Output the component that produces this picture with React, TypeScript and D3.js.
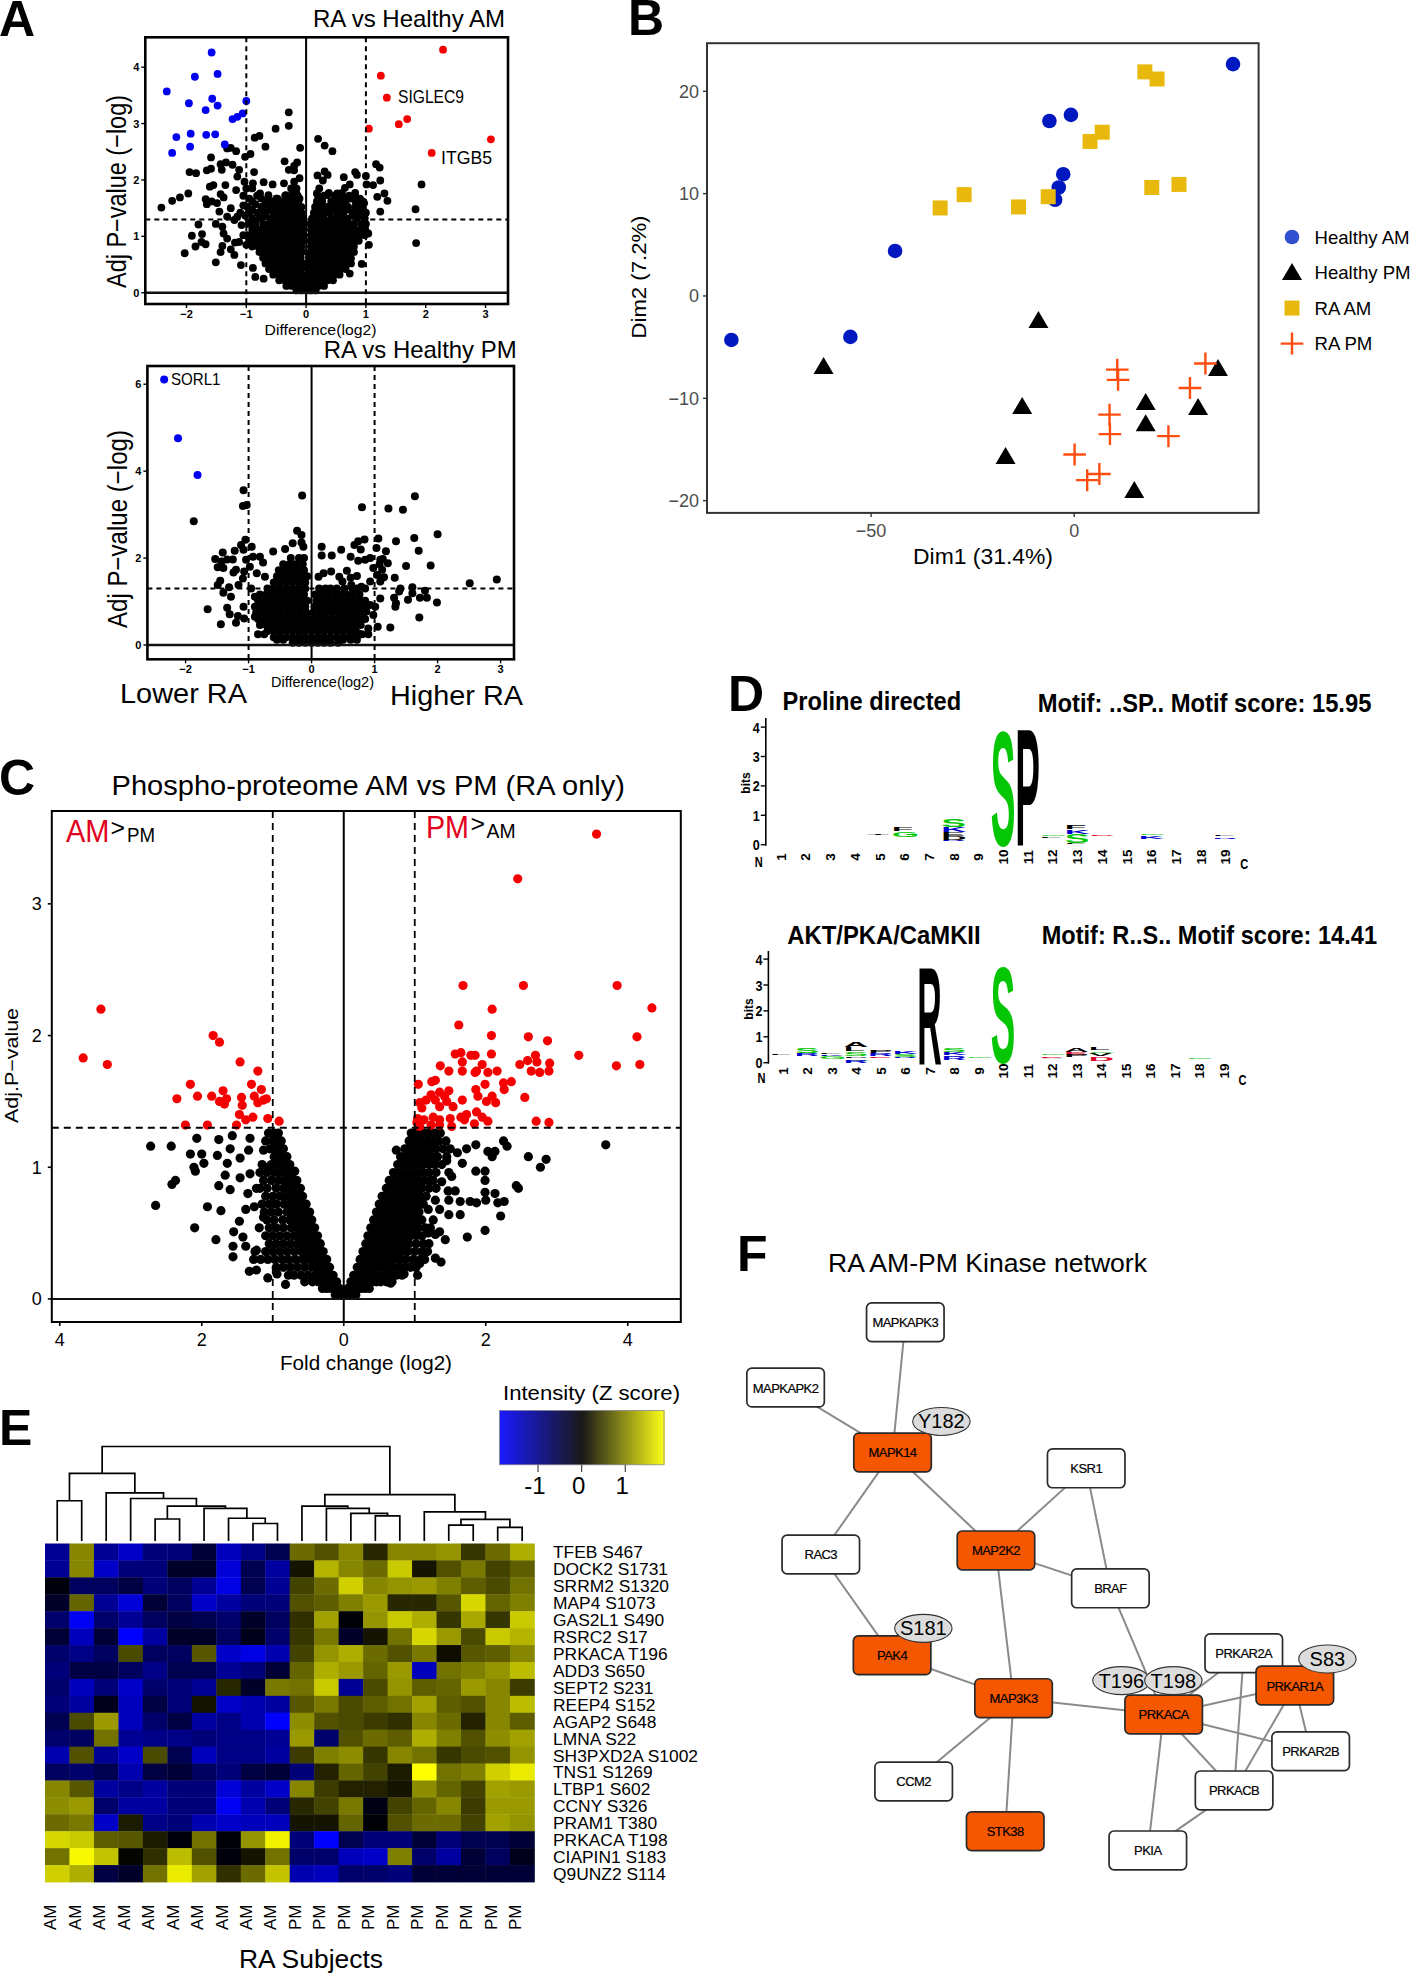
import React from "react";
import * as d3 from "d3";

type Pt = [number, number];
type Row = [number, number[]];
const flat = (rows: Row[]): Pt[] => rows.flatMap(([y, xs]) => xs.map((x) => [x, y] as Pt));
const FONT = "'Liberation Sans', Arial, sans-serif";

// ---------- A top
const a1Blue: Pt[] = [[-1.58,4.26],[-1.48,3.88],[-1.86,3.83],[-2.33,3.57],[-1.96,3.36],[-1.57,3.44],[-1.48,3.32],[-1.68,3.24],[-1.0,3.4],[-1.06,3.18],[-1.15,3.12],[-1.23,3.08],[-1.93,2.82],[-2.17,2.76],[-1.67,2.8],[-1.52,2.81],[-1.94,2.59],[-1.36,2.63],[-2.24,2.48]];
const a1Red: Pt[] = [[2.29,4.31],[1.25,3.85],[1.35,3.46],[1.69,3.08],[1.55,2.99],[1.05,2.91],[3.09,2.72],[2.1,2.48]];
const a1Black: Pt[] = [[-.29,3.2],[-.29,2.96],[-.51,2.91],[-.78,2.78],[-.86,2.75],[-.68,2.59],[-.1,2.57],[.2,2.73],[.31,2.61],[.44,2.51],[-1.26,2.57],[-1.32,2.56],[-1.17,2.51],[-.93,2.46],[-1.02,2.41],[-1.59,2.4],[-1.34,2.31],[-1.43,2.28],[-1.23,2.27],[-.36,2.33],[-.15,2.31],[-.2,2.25],[-1.59,2.2],[-1.66,2.17],[-1.95,2.14],[-1.84,2.12],[-1.41,2.18],[-1.12,2.18],[-.87,2.14],[-.29,2.18],[-.2,2.17],[.19,2.08],[.31,2.15],[.36,2.09],[.28,1.99],[.63,2.05],[.82,2.14],[.85,2.09],[1.0,2.07],[1.17,2.28],[1.23,2.22],[1.24,1.99],[1.01,1.92],[1.12,1.91],[1.93,1.92],[1.31,1.76],[1.19,1.7],[1.36,1.63],[1.83,1.48],[1.24,1.44],[1.84,.88],[1.05,.85],[1.04,1.05],[.93,.51],[-2.42,1.51],[-2.24,1.63],[-2.11,1.69],[-1.97,1.76],[-1.68,1.66],[-1.66,1.57],[-1.58,1.62],[-1.61,1.88],[-1.55,1.91],[-1.35,1.91],[-1.43,1.75],[-1.38,1.69],[-1.49,1.59],[-1.45,1.44],[-1.8,1.21],[-1.91,1.01],[-1.74,1.04],[-1.75,.9],[-1.85,.82],[-1.68,.86],[-2.03,.7],[-1.51,1.22],[-1.4,1.17],[-1.38,1.05],[-1.32,.96],[-1.4,.83],[-1.43,.72],[-1.51,.54],[-1.26,.77],[-1.2,.67],[-1.09,.49],[-.89,.44],[-.85,.28],[-.71,.25],[-1.19,.89],[-1.32,1.35],[-1.2,1.29],[-1.15,1.35],[-1.26,1.5],[-1.17,1.82],[-1.15,2.06],[-1.03,1.97],[-.89,1.94],[-.71,1.96],[-.56,1.92],[-.37,1.94],[-.2,1.97],[-.11,2.03],[-.77,1.76],[-.63,1.73],[-.48,1.67],[-.34,1.73],[-.17,1.79],[-.11,1.67],[.18,1.76],[.35,1.73],[.52,1.76],[.65,1.86],[.73,1.92],[.71,1.69],[.84,1.66],[.97,1.59],[.98,1.41],[.64,1.62],[.55,1.64],[.75,.61],[.73,.34],[.75,.52],[-1.05,1.55],[-1.1,1.42],[-1.08,1.2],[-1.05,1.02],[-1.12,.9],[-1.0,.85]];
const a1Dense: Row[] = [
[.04,[-.16,-.08,0,.08,.16]],
[.12,[-.33,-.24,-.15,-.06,.03,.12,.21,.3]],
[.22,[-.45,-.36,-.27,-.18,-.09,0,.09,.18,.27,.36,.45]],
[.32,[-.55,-.45,-.36,-.27,-.18,-.09,.02,.11,.2,.29,.38,.47,.56]],
[.42,[-.62,-.53,-.44,-.35,-.26,-.17,-.08,.03,.12,.21,.3,.39,.48,.57,.66]],
[.52,[-.68,-.59,-.5,-.41,-.32,-.23,-.14,-.06,.05,.14,.23,.32,.41,.5,.59,.68]],
[.62,[-.72,-.63,-.54,-.45,-.36,-.27,-.18,-.09,.06,.15,.24,.33,.42,.51,.6,.69]],
[.72,[-.78,-.69,-.6,-.51,-.42,-.33,-.24,-.15,-.07,.07,.16,.25,.34,.43,.52,.61,.7,.8]],
[.82,[-.9,-.8,-.71,-.62,-.53,-.44,-.35,-.26,-.17,-.08,.08,.17,.26,.35,.44,.53,.62,.71,.8]],
[.92,[-.95,-.85,-.76,-.67,-.58,-.49,-.4,-.31,-.22,-.13,-.06,.07,.16,.25,.34,.43,.52,.61,.7,.79,.88]],
[1.02,[-.98,-.88,-.78,-.69,-.6,-.51,-.42,-.33,-.24,-.15,-.06,.08,.17,.26,.35,.44,.53,.62,.71,.8,.89,.98]],
[1.12,[-.9,-.8,-.7,-.61,-.52,-.43,-.34,-.25,-.16,-.07,.08,.18,.27,.36,.45,.54,.63,.72,.81,.9,.99]],
[1.22,[-.96,-.85,-.72,-.62,-.52,-.42,-.33,-.24,-.15,-.06,.07,.17,.26,.35,.44,.53,.62,.71,.8,.92,1.0]],
[1.32,[-.9,-.78,-.6,-.5,-.41,-.32,-.23,-.14,-.05,.1,.2,.3,.42,.5,.6,.7,.85,.98]],
[1.42,[-.95,-.82,-.68,-.55,-.44,-.35,-.26,-.17,-.08,.13,.22,.31,.4,.52,.62,.78,.9,1.0]],
[1.52,[-.98,-.75,-.6,-.42,-.33,-.24,-.15,-.08,.15,.24,.35,.45,.58,.7,.82,.95]],
[1.62,[-.9,-.68,-.58,-.4,-.3,-.22,-.13,.18,.27,.42,.54,.66,.83,.95]],
[1.72,[-1.05,-.82,-.35,-.25,-.14,.2,.3,.48,.72]],
[1.85,[-1.0,-.9,-.25,-.16,.22]],
[1.37,[-1.02,-.7,.78,.92]],
[1.47,[-.9,-.72,-.6,-.5,.48,.68,.85]],
[1.57,[-.85,-.66,-.5,.52,.64,.88]],
[1.67,[-.95,-.75,-.5,.6,.75,.9]],
[1.77,[.38,.6,.82]],
];

// ---------- A bottom
const a2Blue: Pt[] = [[-2.34,6.11],[-2.12,4.76],[-1.81,3.91]];
const a2Black: Pt[] = [[-1.87,2.85],[-1.08,3.56],[-1.09,3.2],[-1.03,3.22],[-.15,3.44],[.8,3.17],[1.22,3.14],[1.45,3.11],[1.64,3.42],[2.0,2.55],[1.63,2.46],[1.34,2.39],[1.06,2.45],[.84,2.43],[.74,2.39],[.68,2.3],[.78,2.2],[1.03,2.23],[1.18,2.16],[1.7,2.17],[1.89,1.83],[1.5,1.82],[2.94,1.51],[2.51,1.42],[-.23,2.63],[-.16,2.53],[-.16,2.36],[-.13,2.26],[-.3,2.34],[-.42,2.21],[-.61,2.15],[.16,2.26],[.16,2.06],[.32,2.06],[.47,2.19],[-1.05,2.42],[-1.12,2.3],[-.95,2.26],[-1.08,2.19],[-1.22,2.17],[-1.41,2.13],[-1.53,1.98],[-1.43,1.92],[-1.34,1.97],[-1.25,1.97],[-1.49,1.79],[-1.4,1.77],[-1.2,1.73],[-1.24,1.67],[-1.45,1.48],[-1.49,1.38],[-1.31,1.33],[-1.16,1.38],[-1.4,1.2],[-1.28,1.11],[-1.65,.82],[-1.34,.86],[-1.3,.71],[-1.17,.67],[-1.2,.51],[-1.44,.48],[-1.07,.61],[-.9,.65],[-1.08,.88],[-1.04,1.96],[-.93,2.03],[-.82,2.03],[-.77,1.9],[-.98,1.8],[-1.07,1.69],[-.87,1.65],[-.74,1.57],[-1.09,1.53],[-.96,1.3],[-.9,1.11],[.62,2.03],[.74,1.94],[.85,1.96],[.93,2.0],[1.09,1.96],[1.13,1.98],[1.21,1.88],[.98,1.77],[1.08,1.86],[1.12,1.73],[1.15,1.56],[1.04,1.61],[.93,1.46],[1.09,1.46],[1.32,1.55],[.56,1.71],[.31,1.69],[.19,1.65],[.11,1.57],[.44,1.57],[.62,1.55],[.72,1.59],[.49,1.46],[.63,1.38],[.79,1.34],[1.41,1.3],[1.6,1.33],[1.8,1.25],[1.39,1.23],[1.6,1.19],[1.72,1.09],[1.83,1.09],[1.31,1.09],[1.53,1.04],[1.99,.98],[1.34,.96],[1.33,.88],[1.71,.63],[1.25,.4],[1.05,.42],[.93,.92],[1.01,.88],[1.09,1.07],[.87,.77],[.98,.69],[.9,.38],[.74,.27],[.63,.21],[.79,.58]];
const a2Dense: Row[] = [
[.05,[-.3,-.2,-.1,0,.1,.2,.3,.42]],
[.18,[-.6,-.5,-.4,-.3,-.2,-.1,0,.1,.2,.3,.4,.5,.6]],
[.32,[-.7,-.6,-.5,-.4,-.3,-.2,-.1,0,.1,.2,.3,.4,.5,.6,.7]],
[.46,[-.82,-.72,-.62,-.52,-.42,-.32,-.22,-.12,-.02,.08,.18,.28,.38,.48,.58,.68,.78]],
[.6,[-.85,-.75,-.65,-.55,-.45,-.35,-.25,-.15,-.05,.05,.15,.25,.35,.45,.55,.65,.75,.85]],
[.74,[-.88,-.78,-.68,-.58,-.48,-.38,-.28,-.18,-.08,.03,.13,.23,.33,.43,.53,.63,.73,.83]],
[.88,[-.9,-.8,-.7,-.6,-.5,-.4,-.3,-.2,-.1,.05,.15,.25,.35,.45,.55,.65,.75,.85]],
[1.02,[-.85,-.75,-.65,-.55,-.45,-.35,-.25,-.15,-.07,.08,.18,.28,.38,.48,.58,.68,.78,.85]],
[1.16,[-.82,-.72,-.62,-.52,-.42,-.32,-.22,-.12,.06,.16,.26,.36,.46,.56,.66,.76]],
[1.3,[-.7,-.6,-.5,-.4,-.3,-.2,-.1,.12,.22,.3,.4,.52,.65,.72,.85]],
[1.44,[-.6,-.5,-.4,-.3,-.2,-.1]],
[1.58,[-.55,-.45,-.35,-.25,-.15,-.07]],
[1.72,[-.52,-.42,-.32,-.22,-.12]],
[1.86,[-.45,-.35,-.25,-.14]],
[2.0,[-.33,-.2,-.12]],
[.12,[-.45,-.55,.5,.62,.72]],
[.25,[-.75,-.85,.7,.8,.9]],
];

// ---------- B
const bHealthyAM: Pt[] = [[39.1,22.66],[-.8,17.7],[-6.1,17.1],[-2.7,11.9],[-3.8,10.6],[-4.7,9.4],[-44.1,4.4],[-55.1,-4.0],[-84.4,-4.3]];
const bHealthyPM: Pt[] = [[-8.8,-2.4],[-61.7,-6.9],[35.4,-7.1],[17.6,-10.4],[-12.8,-10.8],[30.5,-10.9],[17.6,-12.5],[-16.9,-15.7],[14.8,-19]];
const bRaAM: Pt[] = [[17.4,21.9],[20.4,21.2],[6.9,16.0],[3.9,15.1],[-6.4,9.7],[-27.1,9.9],[-33,8.6],[-13.7,8.7],[19.1,10.6],[25.8,10.9]];
const bRaPM: Pt[] = [[32.3,-6.6],[10.6,-7.2],[10.8,-8.2],[28.5,-9],[8.7,-11.6],[8.8,-13.5],[23.2,-13.7],[.1,-15.5],[6.2,-17.4],[3.2,-18]];
const bLegend = ["Healthy AM", "Healthy PM", "RA AM", "RA PM"];

// ---------- C
const cRed: Pt[] = [[3.56,3.53],[2.45,3.19],[1.68,2.38],[2.53,2.38],[3.85,2.38],[4.34,2.21],[2.09,2.2],[1.62,2.08],[2.08,2.0],[2.6,1.99],[4.13,1.99],[2.87,1.96],[3.31,1.85],[3.84,1.77],[4.17,1.78],[2.08,1.86],[1.57,1.86],[1.65,1.87],[1.79,1.85],[1.85,1.85],[1.67,1.8],[1.36,1.77],[1.95,1.78],[2.7,1.85],[2.48,1.78],[2.59,1.81],[2.72,1.8],[2.9,1.79],[1.48,1.73],[1.67,1.73],[1.85,1.72],[1.87,1.73],[2.03,1.72],[2.16,1.73],[2.64,1.73],[2.76,1.72],[2.89,1.73],[2.36,1.65],[1.99,1.63],[2.25,1.64],[2.26,1.59],[1.29,1.66],[1.24,1.65],[1.05,1.63],[1.48,1.58],[1.86,1.59],[1.35,1.57],[1.23,1.55],[1.42,1.54],[1.89,1.54],[2.09,1.54],[2.55,1.53],[1.67,1.51],[1.16,1.51],[1.07,1.49],[2.01,1.5],[2.14,1.49],[1.29,1.51],[1.45,1.5],[1.1,1.45],[1.35,1.46],[1.54,1.46],[1.73,1.4],[1.87,1.42],[1.65,1.38],[1.95,1.38],[2.03,1.35],[2.71,1.35],[2.89,1.34],[1.04,1.37],[1.13,1.36],[1.26,1.38],[1.35,1.36],[1.5,1.37],[1.7,1.36],[1.84,1.33],[1.52,1.31],[1.35,1.32],[1.07,1.31],[1.03,1.34],[1.23,1.32],
[-3.42,2.2],[-3.67,1.83],[-3.33,1.78],[-1.84,2.0],[-1.75,1.95],[-1.46,1.8],[-1.21,1.73],[-2.16,1.63],[-1.3,1.63],[-1.16,1.59],[-1.7,1.58],[-2.35,1.52],[-2.06,1.54],[-1.86,1.54],[-1.44,1.53],[-1.26,1.54],[-1.09,1.52],[-1.65,1.52],[-1.75,1.5],[-1.68,1.48],[-1.43,1.47],[-1.21,1.49],[-1.13,1.51],[-1.47,1.4],[-1.28,1.38],[-1.38,1.36],[-1.07,1.37],[-.91,1.35],[-2.23,1.32],[-1.92,1.32],[-1.51,1.32]];
const cBlack: Pt[] = [[3.69,1.17],[-2.72,1.16],[-2.43,1.16],[-2.07,1.22],[-1.76,1.21],[-1.57,1.24],[-1.32,1.22],[-2.16,1.1],[-2.0,1.1],[-1.78,1.09],[-1.6,1.14],[-1.34,1.13],[-1.46,1.07],[-1.97,1.03],[-2.11,1.0],[-2.09,.97],[-1.64,1.03],[-1.67,.94],[-1.46,.92],[-2.37,.9],[-2.42,.87],[-1.76,.86],[-1.6,.83],[-2.65,.71],[-1.92,.7],[-1.73,.67],[-1.47,.59],[-2.1,.54],[-1.55,.51],[-1.8,.45],[-1.42,.47],[-1.56,.4],[-1.56,.32],[-1.38,.4],[-1.23,.37],[-1.33,.21],[-1.23,.22],[-1.07,.16],[-.82,.11],[-.94,.19],[-1.35,.8],[-1.38,.68],[-1.26,.7],[-1.19,.54],[-1.13,.62],[-.69,.97],[-1.32,.95],[-1.23,.84],[-1.13,.9],[-1.07,1.0],[-1.13,1.13],[-.94,1.18],[-.91,1.09],[-1.0,1.25],
[.74,1.13],[2.25,1.2],[2.3,1.16],[1.86,1.17],[1.73,1.14],[1.6,1.11],[2.03,1.12],[2.13,1.12],[2.09,1.08],[2.6,1.08],[2.85,1.06],[2.77,1.0],[1.67,1.03],[1.86,.97],[1.99,.97],[1.99,.9],[1.48,.96],[1.52,.93],[2.43,.86],[2.46,.84],[1.99,.81],[2.13,.8],[1.57,.82],[1.47,.82],[1.78,.74],[1.87,.73],[2,.75],[2.17,.73],[2.26,.74],[1.64,.74],[1.48,.75],[2.21,.63],[1.64,.64],[1.48,.64],[1.99,.52],[1.74,.47],[1.35,.51],[1.43,.45],[1.29,.49],[1.29,.31],[1.37,.28],[1.04,.18],[.85,.19],[.66,.12],[1.07,.27],[1.19,.5],[1.26,.6],[1.19,.68],[1.35,.68],[1.29,.75],[1.38,.89],[1.26,.9],[1.45,1.05]];
const cDense: Row[] = [
[.03,[-.03,-.07,-.12,.03,.07,.12,.17]],
[.08,[-.06,-.12,-.18,-.24,-.3,.06,.12,.18,.24,.3,.36]],
[.13,[-.1,-.16,-.22,-.28,-.36,-.44,-.55,.1,.16,.22,.28,.34,.4,.46,.52,.6,.68]],
[.18,[-.15,-.21,-.27,-.33,-.4,-.5,-.6,-.7,-.78,.14,.2,.26,.32,.38,.44,.5,.58,.66,.74,.82]],
[.24,[-.2,-.26,-.32,-.38,-.45,-.55,-.65,-.75,-.85,-.95,.19,.25,.31,.37,.43,.49,.55,.62,.7,.78,.86,.94,1.02]],
[.3,[-.24,-.3,-.36,-.42,-.5,-.58,-.68,-.78,-.87,-.97,-1.07,-1.17,-1.27,.23,.29,.35,.41,.47,.53,.59,.65,.72,.8,.88,.98,1.08,1.14]],
[.36,[-.29,-.35,-.41,-.47,-.53,-.6,-.7,-.8,-.9,-1.0,-1.1,-1.25,.27,.33,.39,.45,.51,.57,.63,.69,.75,.82,.9,1.0,1.1,1.18]],
[.42,[-.33,-.39,-.45,-.51,-.57,-.65,-.75,-.85,-.95,-1.05,.31,.37,.43,.49,.55,.61,.67,.73,.79,.85,.92,1.02,1.12,1.2]],
[.48,[-.37,-.43,-.49,-.55,-.62,-.7,-.8,-.9,-1.0,-1.1,.34,.4,.46,.52,.58,.64,.7,.76,.82,.88,.94,1.02,1.1]],
[.54,[-.41,-.47,-.53,-.59,-.66,-.74,-.85,-.95,-1.05,.38,.44,.5,.56,.62,.68,.74,.8,.86,.92,.98,1.05,1.15,1.22]],
[.6,[-.45,-.5,-.56,-.62,-.68,-.76,-.86,-.98,-1.08,.42,.48,.54,.6,.66,.72,.78,.84,.9,.96,1.02,1.1]],
[.66,[-.48,-.54,-.6,-.66,-.72,-.8,-.92,-1.02,-1.12,.46,.52,.58,.64,.7,.76,.82,.88,.94,1.0,1.06]],
[.72,[-.53,-.58,-.64,-.7,-.76,-.84,-.95,-1.05,-1.15,.5,.56,.62,.68,.74,.8,.86,.92,.98,1.04,1.12]],
[.78,[-.58,-.63,-.69,-.75,-.82,-.9,-1.0,-1.1,.54,.6,.66,.72,.78,.84,.9,.96,1.02,1.08,1.16]],
[.84,[-.61,-.67,-.73,-.79,-.85,-.95,-1.08,-1.18,.6,.66,.72,.78,.84,.9,.96,1.02,1.1,1.2,1.3]],
[.9,[-.66,-.72,-.78,-.84,-.92,-1.02,.64,.7,.76,.82,.88,.94,1.0,1.06,1.14,1.22]],
[.96,[-.72,-.78,-.84,-.9,-.98,-1.08,-1.18,.7,.76,.82,.88,.94,1.0,1.06,1.12,1.2,1.3]],
[1.02,[-.76,-.82,-.88,-.94,-1.02,-1.15,.76,.82,.88,.94,1.0,1.06,1.12,1.2,1.28,1.38]],
[1.08,[-.8,-.86,-.92,-.98,.8,.86,.92,.98,1.04,1.1,1.16,1.24,1.32,1.45]],
[1.14,[-.85,-.91,-.97,-1.04,.86,.92,.98,1.04,1.1,1.16,1.22,1.3,1.4,1.5]],
[1.2,[-.88,-.94,-1.0,-1.1,.92,.98,1.04,1.1,1.18,1.26,1.34,1.44]],
[1.26,[-.92,-.98,-1.06,.95,1.0,1.06,1.12,1.2,1.28,1.36]],
];

// ---------- D  [column, letter, colour key, bottom bits, top bits]
type Glyph = [number, string, string, number, number];
const logoColors: Record<string, string> = { k: "#000000", g: "#05c605", b: "#0000cc", r: "#e0002a", y: "#b5b5b5" };
const logoColumns = d3.range(1, 20);
const logo1: Glyph[] = [[5,"T","k",.32,.35],[6,"F","k",.48,.6],[6,"G","g",.27,.42],[8,"S","g",.6,.84],[8,"K","b",.44,.59],[8,"E","k",.3,.42],[8,"D","k",.15,.27],[8,"R","b",.11,.15],[10,"S","g",0,3.85],[11,"P","k",-.05,3.85],[12,"G","g",.3,.33],[12,"L","k",.23,.26],[13,"F","k",.55,.69],[13,"K","b",.38,.5],[13,"S","g",.07,.35],[13,"L","k",.03,.05],[14,"D","r",.28,.3],[16,"G","g",.32,.37],[16,"K","b",.18,.27],[19,"L","k",.28,.3],[19,"R","b",.2,.23]];
const logo2: Glyph[] = [[1,"L","k",.28,.3],[2,"S","g",.36,.55],[2,"R","b",.26,.33],[3,"L","k",.35,.4],[3,"K","b",.26,.32],[3,"G","g",.15,.23],[4,"A","k",.62,.8],[4,"L","k",.46,.6],[4,"S","g",.26,.42],[4,"P","k",.2,.23],[4,"G","g",.08,.13],[4,"R","b",-.02,.05],[5,"P","k",.38,.46],[5,"R","b",.27,.36],[5,"E","r",.17,.23],[6,"K","b",.33,.4],[6,"S","g",.23,.3],[6,"R","b",.17,.2],[7,"R","k",-.05,3.65],[8,"S","g",.42,.55],[8,"K","b",.3,.38],[8,"R","b",.1,.23],[9,"G","g",.2,.23],[10,"S","g",0,3.65],[12,"G","g",.28,.33],[12,"E","r",.2,.26],[12,"A","y",.14,.19],[13,"A","k",.42,.58],[13,"E","r",.3,.4],[13,"P","k",.23,.3],[14,"L","k",.49,.58],[14,"G","g",.36,.42],[14,"V","k",.26,.33],[14,"D","r",.08,.2],[18,"G","g",.14,.18]];

// ---------- E
const rowLabels = ["TFEB S467","DOCK2 S1731","SRRM2 S1320","MAP4 S1073","GAS2L1 S490","RSRC2 S17","PRKACA T196","ADD3 S650","SEPT2 S231","REEP4 S152","AGAP2 S648","LMNA S22","SH3PXD2A S1002","TNS1 S1269","LTBP1 S602","CCNY S326","PRAM1 T380","PRKACA T198","CIAPIN1 S183","Q9UNZ2 S114"];
const colLabels = ["AM","AM","AM","AM","AM","AM","AM","AM","AM","AM","PM","PM","PM","PM","PM","PM","PM","PM","PM","PM"];
const heat: number[][] = [
[-1.1,1.0,-1.1,-1.5,-.9,-.9,-.4,-1.4,-1.0,-.6,.8,.6,1.0,.3,1.0,1.0,1.1,.4,.8,1.3],
[-1.1,1.0,-1.5,-.9,-.9,-.3,-.3,-1.6,-.6,-1.2,.15,1.35,1.0,.8,1.5,.15,.6,.9,.5,.7],
[-.1,-.7,-.7,-.5,-.9,-.7,-1.1,-1.7,-.6,-1.1,.5,.8,1.55,1.0,1.1,1.15,.95,.7,.55,.85],
[-.3,.75,-1.1,-1.6,-.4,-.7,-1.5,-1.2,-.9,-.9,.6,.7,.95,1.15,.3,.3,.65,1.6,.75,.95],
[-.8,-1.8,-.8,-1.1,-.7,-.5,-.6,-.8,-.3,-.7,.35,1.2,-.05,1.1,1.5,1.3,.4,1.25,.4,1.5],
[-.4,-1.4,-.4,-1.9,-1.2,-.3,-.3,-.7,-.2,-.8,.4,.9,-.3,.15,.85,1.6,1.15,.55,1.5,1.35],
[-.8,-1.0,-.7,.55,-.7,-.7,.65,-1.5,-1.7,-1.3,.5,1.1,1.3,.8,.6,.9,.1,.65,.7,1.0],
[-.9,-.5,-.5,-.7,-1.0,-.6,-.6,-1.1,-.9,-.4,.75,1.3,1.15,.75,1.15,-1.4,.85,.95,1.1,1.4],
[-.8,-1.4,-.9,-1.5,-.8,-.9,-1.1,.3,-.3,.9,.85,1.5,-1.1,.55,1.1,.7,.75,1.15,1.0,.45],
[-.9,-1.2,-.2,-1.4,-.5,-.9,.15,-1.5,-1.3,-1.2,.65,.9,.55,.7,.85,1.2,.7,.6,1.0,1.4],
[-.6,.55,1.15,-1.4,-.8,-.5,-1.2,-1.0,-1.3,-1.9,1.05,.6,.55,.45,.35,1.0,.8,.25,1.0,.7],
[-.8,-.7,.85,-1.1,-1.0,-1.0,-.9,-1.0,-1.0,-1.1,1.15,-.8,.6,.8,.7,1.3,.95,.6,1.05,1.2],
[-1.3,.6,-1.1,-1.5,.55,-.6,-1.4,-1.0,-1.0,-1.2,.45,.95,1.05,.4,1.0,.85,.4,.55,.6,1.1],
[-.7,-.8,-.6,-1.3,-.5,-.4,-.7,-.9,-.5,-.4,-.9,.25,.75,.5,.2,1.9,.85,.95,1.55,1.75],
[1.0,.65,-1.2,-1.0,-1.2,-.9,-.9,-1.6,-1.2,-1.5,1.0,.45,.25,.25,.15,1.05,.75,.5,1.2,1.15],
[1.05,1.15,-.8,-1.2,-1.2,-.9,-.9,-1.8,-1.3,-.9,.3,.5,.9,-.15,.5,.75,1.0,.45,1.15,1.15],
[.8,.9,-1.5,.2,-1.0,-.9,-1.3,-1.5,-1.4,-1.4,.15,.15,.75,-.05,.6,.8,.8,.5,1.2,1.1],
[1.6,1.5,.7,.65,.2,-.1,.85,-.05,1.1,1.8,-.9,-1.9,-.6,-.9,-.9,-.4,-.9,-.6,-.6,-.4],
[.85,1.85,1.45,.03,.35,1.4,.6,-.1,.15,.85,-.8,-.8,-1.4,-1.5,.95,-.8,-1.2,-.4,-.7,-.2],
[1.55,1.3,-.5,-.3,.85,1.75,1.2,.35,.8,1.45,-1.3,-1.4,-.8,-.8,-.9,-.4,-.4,-.4,-.4,-.4],
];
// [child a, child b, height]; ids 0-19 are leaves, ids 20+ are earlier merges
const dendroMerges: [number, number, number][] = [[0,1,.426],[4,5,.233],[8,9,.185],[7,22,.241],[6,23,.345],[21,24,.369],[3,25,.45],[2,26,.51],[20,27,.715],[13,14,.265],[12,29,.293],[11,30,.345],[10,31,.369],[16,17,.169],[18,19,.145],[33,34,.229],[15,35,.309],[32,36,.49],[28,37,1]];
const barTicks = [-1, 0, 1];
const barDomain: [number, number] = [-1.89, 1.88];

// ---------- F
const nodeNames = ["MAPKAPK3","MAPKAPK2","MAPK14","KSR1","RAC3","MAP2K2","BRAF","PAK4","MAP3K3","PRKAR2A","PRKAR1A","PRKACA","PRKAR2B","PRKACB","CCM2","STK38","PKIA"];
const nodeU = [421,149,392,832,229,627,887,391,667,1190,1306,1008,1342,1168,440,648,972];
const nodeV = [226,386,545,584,795,785,878,1042,1147,1037,1116,1187,1277,1373,1351,1473,1520];
const activeNodes = ["MAPK14","MAP2K2","PAK4","MAP3K3","PRKAR1A","PRKACA","STK38"];
const edges: [string, string][] = [["MAPKAPK3","MAPK14"],["MAPKAPK2","MAPK14"],["MAPK14","RAC3"],["MAPK14","MAP2K2"],["MAP2K2","KSR1"],["KSR1","BRAF"],["MAP2K2","BRAF"],["MAP2K2","MAP3K3"],["RAC3","PAK4"],["PAK4","MAP3K3"],["MAP3K3","PRKACA"],["MAP3K3","CCM2"],["MAP3K3","STK38"],["BRAF","PRKACA"],["PRKACA","PRKAR2A"],["PRKACA","PRKAR1A"],["PRKACA","PRKAR2B"],["PRKACA","PRKACB"],["PRKACA","PKIA"],["PRKACB","PKIA"],["PRKACB","PRKAR2A"],["PRKACB","PRKAR1A"],["PRKAR1A","PRKAR2B"]];
const siteNames = ["Y182","S181","T196","T198","S83"];
const siteU = [503,462,912,1030,1380];
const siteV = [469,976,1104,1104,1051];

// ---------- helpers
type TP = { x?: number; y?: number; w?: number; size: number; anchor?: string; weight?: any; fill?: string; rot?: number; children: any };
const T = ({ x = 0, y = 0, w, size, anchor = "start", weight = "normal", fill = "#000", rot, children }: TP) => (
  <text
    x={rot ? 0 : x}
    y={rot ? 0 : y}
    transform={rot ? `translate(${x},${y}) rotate(${rot})` : undefined}
    fontFamily={FONT}
    fontSize={size}
    fontWeight={weight}
    fill={fill}
    textAnchor={anchor}
    textLength={w}
    lengthAdjust={w ? "spacingAndGlyphs" : undefined}
  >
    {children}
  </text>
);

const fmt = (v: number) => (v < 0 ? "\u2212" + Math.abs(v) : String(v));

function Volcano(p: any) {
  const x = d3.scaleLinear().domain(p.xd).range(p.xr);
  const y = d3.scaleLinear().domain(p.yd).range(p.yr);
  const [l, r] = p.xr;
  const [b, t] = p.yr;
  const dots = (pts: Pt[], c: string) => pts.map((d, i) => <circle key={c + i} cx={x(d[0])} cy={y(d[1])} r={p.r} fill={c} />);
  return (
    <g>
      {dots(p.black, "#000")}
      {dots(p.blue || [], "#0000f0")}
      {dots(p.red || [], "#f50000")}
      <line x1={x(0)} x2={x(0)} y1={t} y2={b} stroke="#000" strokeWidth={2} />
      <line x1={l} x2={r} y1={y(0)} y2={y(0)} stroke="#111" strokeWidth={p.zeroW} />
      {[-1, 1].map((v) => (
        <line key={v} x1={x(v)} x2={x(v)} y1={t} y2={b} stroke="#000" strokeWidth={p.dashW} strokeDasharray={p.dash} />
      ))}
      <line x1={l} x2={r} y1={y(1.3)} y2={y(1.3)} stroke="#000" strokeWidth={p.dashW} strokeDasharray={p.dash} />
      <rect x={l} y={t} width={r - l} height={b - t} fill="none" stroke="#000" strokeWidth={p.frameW} />
      {p.yt.map((v: number) => (
        <g key={v}>
          <line x1={l - 4} x2={l} y1={y(v)} y2={y(v)} stroke="#000" strokeWidth={p.tickW} />
          <text x={l - p.labGap} y={y(v) + p.tsize * 0.36} fontFamily={FONT} fontSize={p.tsize} fontWeight={p.tweight} textAnchor="end">{v}</text>
        </g>
      ))}
      {p.xt.map((v: number) => (
        <g key={v}>
          <line x1={x(v)} x2={x(v)} y1={b} y2={b + 4} stroke="#000" strokeWidth={p.tickW} />
          <text x={x(v)} y={p.xty} fontFamily={FONT} fontSize={p.tsize} fontWeight={p.tweight} textAnchor="middle">{p.absX ? Math.abs(v) : fmt(v)}</text>
        </g>
      ))}
    </g>
  );
}

function Logo(p: { glyphs: Glyph[]; axisX: number; y0: number; unit: number; x1: number; step: number; labelY: number; nY: number; cY: number; axisTop: number; bitsX: number; bitsY: number }) {
  const y = d3.scaleLinear().domain([0, 1]).range([p.y0, p.y0 - p.unit]);
  const x = d3.scaleLinear().domain([1, 2]).range([p.x1, p.x1 + p.step]);
  const adv: Record<string, number> = { S: 66.7, P: 66.7, R: 72.2, A: 72.2 };
  return (
    <g>
      <line x1={p.axisX} x2={p.axisX} y1={p.axisTop} y2={p.y0 + 1} stroke="#000" strokeWidth={1.6} />
      {[0, 1, 2, 3, 4].map((v) => (
        <g key={v}>
          <line x1={p.axisX - 5} x2={p.axisX} y1={y(v)} y2={y(v)} stroke="#000" strokeWidth={1.4} />
          <T x={p.axisX - 6} y={y(v) + 5.5} size={14} weight="bold" anchor="end" w={7}>{v}</T>
        </g>
      ))}
      <T x={p.bitsX} y={p.bitsY} size={12} weight="bold" anchor="middle" rot={-90}>bits</T>
      {logoColumns.map((c) => (
        <T key={c} x={x(c) + 5} y={p.labelY} size={13.5} weight="bold" anchor="middle" rot={-90}>{c}</T>
      ))}
      <T x={p.axisX - 7} y={p.nY} size={15} weight="bold" anchor="middle" w={8}>N</T>
      <T x={x(19) + 19} y={p.cY} size={15} weight="bold" anchor="middle" w={8}>C</T>
      {p.glyphs.map((g, i) => {
        const [c, letter, col, lo, hi] = g;
        const w = p.step;
        const h = y(lo) - y(hi);
        const a = adv[letter] || 70;
        return (
          <text
            key={i}
            transform={`translate(${x(c) - w / 2},${y(lo)}) scale(${w / a},${h / 69})`}
            fontFamily={FONT}
            fontSize={100}
            fontWeight="bold"
            fill={logoColors[col]}
          >
            {letter}
          </text>
        );
      })}
    </g>
  );
}

function PanelB() {
  const x = d3.scaleLinear().domain([-90.4, 45.4]).range([707, 1258.6]);
  const y = d3.scaleLinear().domain([-21.2, 24.7]).range([512.9, 43.2]);
  const sym = (kind: number, cx: number, cy: number, key: string, legend = false) => {
    if (kind === 0) return <circle key={key} cx={cx} cy={cy} r={7.3} fill={legend ? "#3050d0" : "#0018c0"} />;
    if (kind === 1) return <path key={key} d={`M${cx},${cy - 9.5} L${cx + 10},${cy + 7.5} L${cx - 10},${cy + 7.5} Z`} fill="#000" />;
    if (kind === 2) return <rect key={key} x={cx - 7.5} y={cy - 7.5} width={15} height={15} fill="#e8b90c" />;
    return <path key={key} d={`M${cx - 11.3},${cy} H${cx + 11.3} M${cx},${cy - 11} V${cy + 11}`} stroke="#ff4d10" strokeWidth={2.4} fill="none" />;
  };
  const series = [bHealthyAM, bHealthyPM, bRaAM, bRaPM];
  const legendY = d3.scalePoint<number>().domain([0, 1, 2, 3]).range([237, 343.6]);
  return (
    <g>
      {[0, 2, 1, 3].map((k) => series[k].map((d, i) => sym(k, x(d[0]), y(d[1]), `${k}-${i}`)))}
      <rect x={707} y={43.2} width={551.6} height={469.7} fill="none" stroke="#333" strokeWidth={2} />
      {[20, 10, 0, -10, -20].map((v) => (
        <g key={v}>
          <line x1={703} x2={707} y1={y(v)} y2={y(v)} stroke="#333" strokeWidth={1.4} />
          <text x={699} y={y(v) + 6.5} fontFamily={FONT} fontSize={18} fill="#4d4d4d" textAnchor="end">{fmt(v)}</text>
        </g>
      ))}
      {[-50, 0].map((v) => (
        <g key={v}>
          <line x1={x(v)} x2={x(v)} y1={512.9} y2={517} stroke="#333" strokeWidth={1.4} />
          <text x={x(v)} y={537} fontFamily={FONT} fontSize={18} fill="#4d4d4d" textAnchor="middle">{fmt(v)}</text>
        </g>
      ))}
      <T x={983} y={564} w={140} size={22} anchor="middle">Dim1 (31.4%)</T>
      <T x={646} y={277} w={123} size={20} anchor="middle" rot={-90}>Dim2 (7.2%)</T>
      {bLegend.map((name, k) => (
        <g key={name}>
          {sym(k, 1292, legendY(k) as number, "leg" + k, true)}
          <T x={1314.5} y={(legendY(k) as number) + 6.5} size={18.6}>{name}</T>
        </g>
      ))}
    </g>
  );
}

function PanelE() {
  const L = 45, R = 534.4, Tp = 1543.5, B = 1882;
  const x = d3.scaleBand<number>().domain(d3.range(20)).range([L, R]);
  const y = d3.scaleBand<number>().domain(d3.range(20)).range([Tp, B]);
  const color = d3.scaleLinear<string>().domain([-1.9, 0, 1.9]).range(["#0000ff", "#000000", "#ffff00"]).clamp(true);
  const h = d3.scaleLinear().domain([0, 1]).range([1541, 1446.5]);
  const pos: { x: number; h: number }[] = d3.range(20).map((i) => ({ x: (x(i) as number) + x.bandwidth() / 2, h: 0 }));
  const paths: string[] = [];
  dendroMerges.forEach(([a, b, hh]) => {
    const pa = pos[a], pb = pos[b];
    paths.push(`M${pa.x},${h(pa.h)} V${h(hh)} H${pb.x} V${h(pb.h)}`);
    pos.push({ x: (pa.x + pb.x) / 2, h: hh });
  });
  const bx = d3.scaleLinear().domain([-1, 1]).range([538, 625.3]);
  const barStops = d3.range(0, 165);
  const bxInv = d3.scaleLinear().domain([0, 164]).range(barDomain);
  return (
    <g>
      {paths.map((d, i) => <path key={i} d={d} fill="none" stroke="#000" strokeWidth={1.7} />)}
      {heat.map((row, r) => row.map((v, c) => (
        <rect key={`${r}-${c}`} x={x(c)} y={y(r)} width={x.bandwidth() + 0.4} height={y.bandwidth() + 0.4} fill={color(v)} />
      )))}
      {rowLabels.map((s, r) => (
        <T key={s} x={553} y={(y(r) as number) + y.bandwidth() / 2 + 6.5} size={17.4}>{s}</T>
      ))}
      {colLabels.map((s, c) => (
        <T key={c} x={(x(c) as number) + x.bandwidth() / 2 - 1} y={1930} size={17} rot={-90}>{s}</T>
      ))}
      <T x={311} y={1968} w={144} size={26} anchor="middle">RA Subjects</T>
      <T x={503} y={1400} w={177} size={21}>Intensity (Z score)</T>
      {barStops.map((i) => (
        <rect key={i} x={499.5 + i} y={1410.4} width={1.3} height={54.4} fill={color(bxInv(i))} />
      ))}
      <rect x={499.5} y={1410.4} width={164.5} height={54.4} fill="none" stroke="#8a8a9a" strokeWidth={0.8} />
      {barTicks.map((v) => (
        <g key={v}>
          <line x1={bx(v)} x2={bx(v)} y1={1464.8} y2={1472} stroke="#444" strokeWidth={1.2} />
          <text x={bx(v) - 3} y={1494} fontFamily={FONT} fontSize={24} textAnchor="middle">{v === -1 ? "-1" : v}</text>
        </g>
      ))}
    </g>
  );
}

function PanelF() {
  const u = d3.scaleLinear().domain([0, 690 * 2.272]).range([720, 1410]);
  const v = d3.scaleLinear().domain([0, 640 * 2.45]).range([1230, 1870]);
  const at = (n: string) => {
    const i = nodeNames.indexOf(n);
    return [u(nodeU[i]), v(nodeV[i])];
  };
  const W = 77.5, H = 38.8;
  return (
    <g>
      <T x={828} y={1271.5} w={319} size={26}>RA AM-PM Kinase network</T>
      {edges.map(([a, b], i) => {
        const [x1, y1] = at(a), [x2, y2] = at(b);
        return <line key={i} x1={x1} y1={y1} x2={x2} y2={y2} stroke="#8a8a8a" strokeWidth={2} />;
      })}
      {nodeNames.map((n) => {
        const [cx, cy] = at(n);
        const active = activeNodes.includes(n);
        return (
          <g key={n}>
            <rect x={cx - W / 2} y={cy - H / 2} width={W} height={H} rx={5} fill={active ? "#f55600" : "#fff"} stroke="#2a2a2a" strokeWidth={1.7} />
            <text x={cx} y={cy + 5} fontFamily={FONT} fontSize={13} letterSpacing={-0.55} textAnchor="middle" stroke="#000" strokeWidth={0.2}>{n}</text>
          </g>
        );
      })}
      {siteNames.map((s, i) => (
        <g key={s}>
          <ellipse cx={u(siteU[i])} cy={v(siteV[i])} rx={28.7} ry={14} fill="#dcdcdc" stroke="#333" strokeWidth={1.1} />
          <text x={u(siteU[i])} y={v(siteV[i]) + 7} fontFamily={FONT} fontSize={20} textAnchor="middle">{s}</text>
        </g>
      ))}
    </g>
  );
}

export default function App() {
  const a1Pts = [...flat(a1Dense), ...a1Black];
  const a2Pts = [...flat(a2Dense), ...a2Black];
  const cPts = [...flat(cDense), ...cBlack];
  return (
    <svg width={1410} height={1976} viewBox="0 0 1410 1976" style={{ position: "absolute", left: 0, top: 0, background: "#fff" }}>
      {/* Panel letters */}
      <T x={-1} y={36} size={50} weight="bold">A</T>
      <T x={628} y={35} size={50} weight="bold">B</T>
      <T x={-1} y={795} size={50} weight="bold">C</T>
      <T x={728} y={711} size={50} weight="bold">D</T>
      <T x={-1} y={1445} size={50} weight="bold">E</T>
      <T x={737} y={1271} size={50} weight="bold">F</T>

      {/* A top */}
      <Volcano xd={[-2.689, 3.376]} xr={[145.3, 508]} yd={[-0.2, 4.53]} yr={[304, 37.3]} r={3.9} black={a1Pts} blue={a1Blue} red={a1Red}
        zeroW={2.6} dash="5 4" dashW={2} frameW={2.6} tickW={1.4} tsize={11} tweight="bold" labGap={6} yt={[0, 1, 2, 3, 4]} xt={[-2, -1, 0, 1, 2, 3]} xty={318} />
      <T x={313} y={26.5} w={192} size={24}>RA vs Healthy AM</T>
      <T x={398} y={103} w={66} size={18}>SIGLEC9</T>
      <T x={441} y={164} w={51} size={18}>ITGB5</T>
      <T x={125.5} y={191.5} w={193} size={27} anchor="middle" rot={-90}>{"Adj  P\u2212value (\u2212log)"}</T>
      <T x={264.5} y={335} w={112} size={14}>Difference(log2)</T>

      {/* A bottom */}
      <Volcano xd={[-2.606, 3.213]} xr={[147.4, 514]} yd={[-0.329, 6.42]} yr={[659.3, 366]} r={4} black={a2Pts} blue={a2Blue}
        zeroW={2.6} dash="5 4" dashW={2} frameW={2.6} tickW={1.4} tsize={11} tweight="bold" labGap={6} yt={[0, 2, 4, 6]} xt={[-2, -1, 0, 1, 2, 3]} xty={673} />
      <T x={323.7} y={357.5} w={193} size={24}>RA vs Healthy PM</T>
      <T x={171} y={385} w={49.5} size={17}>SORL1</T>
      <T x={127} y={529} w={198} size={27} anchor="middle" rot={-90}>{"Adj P\u2212value (\u2212log)"}</T>
      <T x={271} y={686.5} w={103} size={14}>Difference(log2)</T>
      <T x={120} y={703} w={127} size={28}>Lower RA</T>
      <T x={390} y={705} w={133} size={28}>Higher RA</T>

      {/* B */}
      <PanelB />

      {/* C */}
      <Volcano xd={[-4.112, 4.747]} xr={[51.8, 680.8]} yd={[-0.175, 3.705]} yr={[1322, 811]} r={4.6} black={cPts} red={cRed}
        zeroW={2} dash="7 5" dashW={1.8} frameW={2} tickW={1.6} tsize={18} tweight="normal" labGap={10} yt={[0, 1, 2, 3]} xt={[-4, -2, 0, 2, 4]} xty={1346} absX />
      <T x={111.6} y={795} w={513.4} size={28}>Phospho-proteome AM vs PM (RA only)</T>
      <T x={66} y={841.5} w={43.5} size={31} fill="#e00020">AM</T>
      <T x={110.5} y={836} w={14.5} size={24}>&gt;</T>
      <T x={127} y={841.5} w={28} size={21}>PM</T>
      <T x={426} y={837.5} w={43} size={31} fill="#e00020">PM</T>
      <T x={470.5} y={832} w={14.5} size={24}>&gt;</T>
      <T x={486.5} y={837.5} w={29} size={21}>AM</T>
      <T x={18} y={1065.5} w={115} size={18} anchor="middle" rot={-90}>{"Adj.P\u2212value"}</T>
      <T x={280} y={1370} w={172} size={20}>Fold change (log2)</T>

      {/* D */}
      <T x={782.5} y={710} w={178.7} size={26} weight="bold">Proline directed</T>
      <T x={1037.8} y={711.5} w={333.6} size={26} weight="bold">Motif: ..SP.. Motif score: 15.95</T>
      <T x={787.3} y={944} w={193.3} size={26} weight="bold">AKT/PKA/CaMKII</T>
      <T x={1041.7} y={944} w={335.3} size={26} weight="bold">Motif: R..S.. Motif score: 14.41</T>
      <Logo glyphs={logo1} axisX={765.8} y0={844.7} unit={29.4} x1={780.7} step={24.7} labelY={857} nY={867} cY={869} axisTop={718} bitsX={750} bitsY={783} />
      <Logo glyphs={logo2} axisX={768.4} y0={1062.7} unit={25.9} x1={782.5} step={24.5} labelY={1071} nY={1083} cY={1085} axisTop={951} bitsX={753} bitsY={1009} />

      <PanelE />
      <PanelF />
    </svg>
  );
}
